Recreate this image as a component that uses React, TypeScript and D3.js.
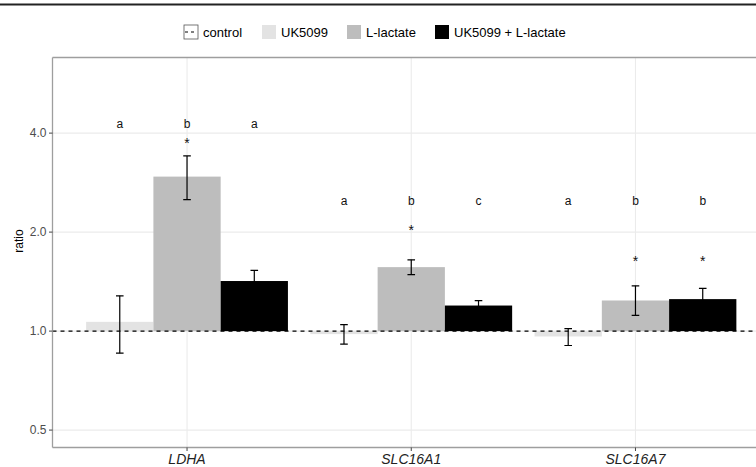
import { useMemo } from "react";
import * as d3 from "d3";

// data
const genes = ["LDHA", "SLC16A1", "SLC16A7"];
const treatments = ["UK5099", "L-lactate", "UK5099 + L-lactate"];
const colors = ["#e3e3e3", "#bdbdbd", "#000000"];

const meanUK = [1.067, 0.979, 0.963];
const meanLac = [2.95, 1.565, 1.239];
const meanBoth = [1.42, 1.196, 1.251];

const lowUK = [0.857, 0.913, 0.904];
const highUK = [1.28, 1.047, 1.018];
const lowLac = [2.51, 1.486, 1.116];
const highLac = [3.41, 1.647, 1.373];
const lowBoth = [1.32, 1.16, 1.16];
const highBoth = [1.53, 1.237, 1.348];

const letters = [
  ["a", "b", "a"],
  ["a", "b", "c"],
  ["a", "b", "b"],
];
const letterY = [4.26, 2.48, 2.48];
const stars = [
  [false, true, false],
  [false, true, false],
  [false, true, true],
];
const starY = [3.77, 2.04, 1.64];

const yTicks = [0.5, 1, 2, 4];

const W = 756;
const H = 467;
const PANEL = { left: 52.5, top: 57.5, bottom: 447.5, right: 770 };
const FONT = "'Liberation Sans', Arial, Helvetica, sans-serif";

export default function App() {
  const means = [meanUK, meanLac, meanBoth];
  const lows = [lowUK, lowLac, lowBoth];
  const highs = [highUK, highLac, highBoth];

  const x = useMemo(
    () =>
      d3
        .scaleBand<string>()
        .domain(genes)
        .range([PANEL.left, PANEL.right])
        .paddingInner(0)
        .paddingOuter(0.1),
    []
  );
  const xInner = useMemo(
    () => d3.scaleBand<string>().domain(treatments).range([0, x.bandwidth() * 0.9]),
    [x]
  );
  const y = useMemo(
    () =>
      d3
        .scaleLog()
        .base(2)
        .domain([Math.pow(2, -1.176), Math.pow(2, 2.764)])
        .range([PANEL.bottom, PANEL.top]),
    []
  );

  const groupStart = (g: string) => (x(g) as number) + x.bandwidth() * 0.05;
  const barX = (g: string, t: string) => groupStart(g) + (xInner(t) as number);
  const barMid = (g: string, t: string) => barX(g, t) + xInner.bandwidth() / 2;

  const legendItems = [
    { label: "control", x: 184, dashed: true, fill: "#ffffff" },
    { label: treatments[0], x: 262, dashed: false, fill: colors[0] },
    { label: treatments[1], x: 347, dashed: false, fill: colors[1] },
    { label: treatments[2], x: 435, dashed: false, fill: colors[2] },
  ];

  return (
    <div style={{ position: "absolute", left: 0, top: 0 }}>
      <svg width={W} height={H} style={{ display: "block", background: "#fff" }} fontFamily={FONT}>
        <defs>
          <clipPath id="panel">
            <rect x={PANEL.left} y={PANEL.top} width={PANEL.right - PANEL.left} height={PANEL.bottom - PANEL.top} />
          </clipPath>
        </defs>
        {/* top rule */}
        <line x1={0} x2={W} y1={4.5} y2={4.5} stroke="#222" strokeWidth={2} />

        {/* legend */}
        {legendItems.map((d) => (
          <g key={d.label}>
            <rect
              x={d.x}
              y={25}
              width={14}
              height={14}
              fill={d.fill}
              stroke={d.dashed ? "#555" : "none"}
              strokeWidth={0.8}
            />
            {d.dashed && (
              <line x1={d.x + 1} x2={d.x + 13} y1={32} y2={32} stroke="#000" strokeWidth={1} strokeDasharray="3,3" />
            )}
            <text x={d.x + 19} y={32} dy="0.35em" fontSize={13} fill="#000">
              {d.label}
            </text>
          </g>
        ))}

        {/* grid */}
        <g stroke="#ebebeb" strokeWidth={1.1}>
          {yTicks.map((t) => (
            <line key={t} x1={PANEL.left} x2={PANEL.right} y1={y(t)} y2={y(t)} />
          ))}
          {genes.map((g) => (
            <line
              key={g}
              x1={(x(g) as number) + x.bandwidth() / 2}
              x2={(x(g) as number) + x.bandwidth() / 2}
              y1={PANEL.top}
              y2={PANEL.bottom}
            />
          ))}
        </g>

        <g clipPath="url(#panel)">
          {/* bars from ratio 1 */}
          {genes.map((g, gi) =>
            treatments.map((t, ti) => {
              const v = means[ti][gi];
              const y0 = y(1);
              const y1 = y(v);
              return (
                <rect
                  key={g + t}
                  x={barX(g, t)}
                  y={Math.min(y0, y1)}
                  width={xInner.bandwidth()}
                  height={Math.abs(y0 - y1)}
                  fill={colors[ti]}
                />
              );
            })
          )}
          {/* error bars */}
          {genes.map((g, gi) =>
            treatments.map((t, ti) => {
              const cx = barMid(g, t);
              const lo = y(lows[ti][gi]);
              const hi = y(highs[ti][gi]);
              return (
                <g key={"e" + g + t} stroke="#000" strokeWidth={1.2}>
                  <line x1={cx} x2={cx} y1={lo} y2={hi} />
                  <line x1={cx - 3.8} x2={cx + 3.8} y1={lo} y2={lo} />
                  <line x1={cx - 3.8} x2={cx + 3.8} y1={hi} y2={hi} />
                </g>
              );
            })
          )}
          {/* control reference */}
          <line
            x1={PANEL.left}
            x2={PANEL.right}
            y1={y(1)}
            y2={y(1)}
            stroke="#000"
            strokeWidth={1.2}
            strokeDasharray="4,4"
          />
        </g>

        {/* annotations */}
        {genes.map((g, gi) =>
          treatments.map((t, ti) => (
            <g key={"a" + g + t}>
              <text x={barMid(g, t)} y={y(letterY[gi]) + 4} textAnchor="middle" fontSize={12} fill="#111">
                {letters[gi][ti]}
              </text>
              {stars[gi][ti] && (
                <text x={barMid(g, t)} y={y(starY[gi]) + 6} textAnchor="middle" fontSize={14} fill="#111">
                  *
                </text>
              )}
            </g>
          ))
        )}

        {/* panel frame */}
        <g stroke="#9e9e9e" strokeWidth={1.3} fill="none">
          <line x1={PANEL.left} x2={PANEL.left} y1={PANEL.top} y2={PANEL.bottom} />
          <line x1={PANEL.left} x2={W} y1={PANEL.bottom} y2={PANEL.bottom} />
          <line x1={PANEL.left} x2={W} y1={PANEL.top} y2={PANEL.top} />
        </g>

        {/* y axis */}
        {yTicks.map((t) => (
          <g key={"yt" + t}>
            <line x1={PANEL.left - 3.5} x2={PANEL.left} y1={y(t)} y2={y(t)} stroke="#444" strokeWidth={1} />
            <text x={PANEL.left - 6} y={y(t)} dy="0.35em" textAnchor="end" fontSize={12} fill="#4d4d4d">
              {d3.format(".1f")(t)}
            </text>
          </g>
        ))}
        <text
          transform={`translate(19,241) rotate(-90)`}
          textAnchor="middle"
          dy="0.35em"
          fontSize={12}
          fill="#000"
        >
          ratio
        </text>

        {/* x axis */}
        {genes.map((g) => {
          const cx = (x(g) as number) + x.bandwidth() / 2;
          return (
            <g key={"xt" + g}>
              <line x1={cx} x2={cx} y1={PANEL.bottom} y2={PANEL.bottom + 3.5} stroke="#444" strokeWidth={1} />
              <text x={cx} y={459} dy="0.35em" textAnchor="middle" fontSize={14} fontStyle="italic" fill="#222">
                {g}
              </text>
            </g>
          );
        })}
      </svg>
    </div>
  );
}
